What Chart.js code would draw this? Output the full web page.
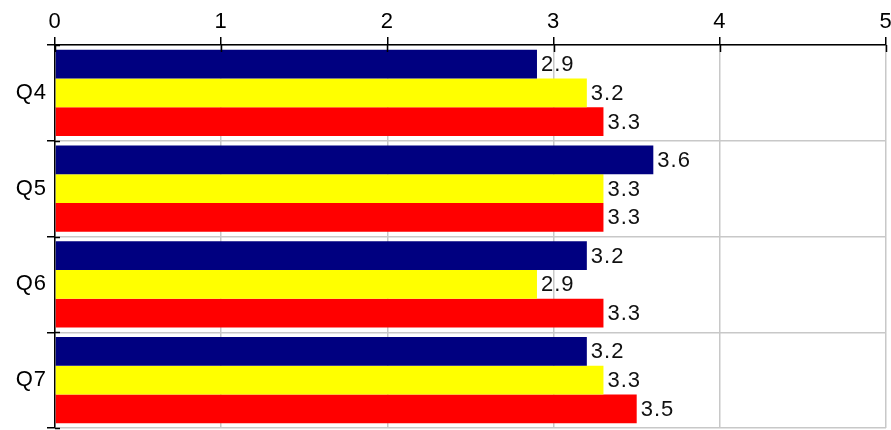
<!DOCTYPE html>
<html><head><meta charset="utf-8">
<script src="https://cdn.jsdelivr.net/npm/chart.js@4/dist/chart.umd.min.js"></script>
<style>html,body{margin:0;padding:0;background:#fff}#wrap{width:891px;height:430px}</style>
</head><body><div id="wrap"><canvas id="c" width="891" height="430"></canvas></div>
<script>
const categories = ['Q4', 'Q5', 'Q6', 'Q7'];
const seriesNavy = [2.9, 3.6, 3.2, 3.2];
const seriesYellow = [3.2, 3.3, 2.9, 3.3];
const seriesRed = [3.3, 3.3, 3.3, 3.5];
const xTickValues = [0, 1, 2, 3, 4, 5];

const FONT = '"Liberation Sans", Arial, sans-serif';

const spacingPlugin = {
  id: 'spacing',
  beforeDraw(chart) { chart.ctx.letterSpacing = '1px'; }
};

const labelPlugin = {
  id: 'valueLabels',
  afterDatasetsDraw(chart) {
    const ctx = chart.ctx;
    ctx.save();
    ctx.letterSpacing = '1px';
    ctx.font = '22px ' + FONT;
    ctx.fillStyle = '#111';
    ctx.textAlign = 'left';
    ctx.textBaseline = 'middle';
    chart.data.datasets.forEach((ds, i) => {
      chart.getDatasetMeta(i).data.forEach((bar, j) => {
        ctx.fillText(ds.data[j].toFixed(1), bar.x + 4, bar.y + 1);
      });
    });
    ctx.restore();
  }
};

const crossTicks = {
  id: 'crossTicks',
  afterDraw(chart) {
    const ctx = chart.ctx, a = chart.chartArea;
    const xs = chart.scales.x, ys = chart.scales.y;
    ctx.save();
    ctx.strokeStyle = '#000';
    ctx.lineWidth = 1.5;
    xTickValues.forEach(v => {
      const px = Math.round(xs.getPixelForValue(v)) + 0.5;
      ctx.beginPath(); ctx.moveTo(px, a.top); ctx.lineTo(px, a.top + 7); ctx.stroke();
    });
    for (let i = 0; i <= categories.length; i++) {
      const py = Math.round(ys.getPixelForTick(0) + (i - 0.5) * (ys.getPixelForTick(1) - ys.getPixelForTick(0))) + 0.5;
      ctx.beginPath(); ctx.moveTo(a.left, py); ctx.lineTo(a.left + 5, py); ctx.stroke();
    }
    ctx.restore();
  }
};

new Chart(document.getElementById('c'), {
  type: 'bar',
  data: {
    labels: categories,
    datasets: [
      { data: seriesNavy, backgroundColor: '#000080' },
      { data: seriesYellow, backgroundColor: '#ffff00' },
      { data: seriesRed, backgroundColor: '#ff0000' }
    ]
  },
  options: {
    indexAxis: 'y',
    responsive: false,
    animation: false,
    devicePixelRatio: 1,
    datasets: { bar: { categoryPercentage: 0.9, barPercentage: 1.0, borderWidth: 0 } },
    layout: { padding: { top: 0, left: 0, right: 5, bottom: 2 } },
    plugins: { legend: { display: false }, tooltip: { enabled: false } },
    scales: {
      x: {
        position: 'top',
        min: 0, max: 5,
        afterBuildTicks(s) { s.ticks = xTickValues.map(v => ({ value: v })); },
        ticks: { font: { family: FONT, size: 22 }, color: '#000', padding: 2, maxRotation: 0 },
        grid: { color: '#c8c8c8', tickColor: '#000', tickLength: 8, lineWidth: 1.5 },
        border: { color: '#000', width: 1.5 },
        afterFit(s) { s.height = 45; s.paddingLeft = 0; s.paddingRight = 0; }
      },
      y: {
        ticks: { font: { family: FONT, size: 22 }, color: '#000', padding: 0 },
        grid: { color: '#c8c8c8', tickColor: '#000', tickLength: 8, lineWidth: 1.5, offset: true },
        border: { color: '#000', width: 1.5 },
        afterFit(s) { s.width = 55; s.paddingTop = 0; s.paddingBottom = 0; }
      }
    }
  },
  plugins: [spacingPlugin, labelPlugin, crossTicks]
});
</script></body></html>
